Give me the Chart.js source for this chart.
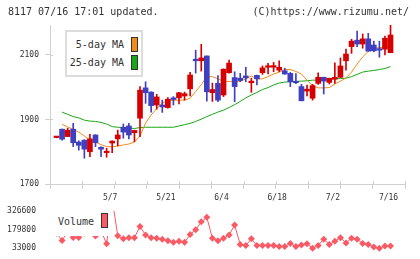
<!DOCTYPE html>
<html>
<head>
<meta charset="utf-8">
<script src="https://cdn.jsdelivr.net/npm/chart.js@4.4.1/dist/chart.umd.min.js"></script>
<style>
  html, body { margin: 0; padding: 0; background: #fff; }
  body { position: relative; width: 420px; height: 259px; overflow: hidden;
         font-family: "DejaVu Sans Mono", monospace; font-size: 10px; color: #333; }
  canvas { position: absolute; left: 0; }
  #priceChart { top: 0; }
  #volumeChart { top: 200px; }
  .t { position: absolute; line-height: 12px; white-space: nowrap; }
  .box { position: absolute; background: #fff; box-sizing: border-box; }
  .sw { position: absolute; width: 7px; height: 15px; box-sizing: border-box; border: 1px solid #333; }
</style>
</head>
<body>
<canvas id="priceChart" width="420" height="205"></canvas>
<canvas id="volumeChart" width="420" height="59"></canvas>

<div class="t" style="left:8px;top:6px">8117 07/16 17:01 updated.</div>
<div class="t" style="right:11px;top:6px">(C)https://www.rizumu.net/</div>

<div class="box" style="left:65px;top:30px;width:78px;height:47px;border:2px solid #ddd"></div>
<div class="t" style="right:296px;top:39px">5-day MA</div>
<div class="sw" style="left:131px;top:37px;background:#f08c1e"></div>
<div class="t" style="right:296px;top:57px">25-day MA</div>
<div class="sw" style="left:131px;top:55px;background:#17a817"></div>

<div class="box" style="left:52px;top:204px;width:60px;height:32px"></div>
<div class="t" style="left:58px;top:216px">Volume</div>
<div class="sw" style="left:101px;top:213px;background:#fa5a64"></div>

<script>
const dates = ['4/18', '4/21', '4/22', '4/23', '4/24', '4/25', '4/28', '4/30', '5/1', '5/2',
    '5/7', '5/8', '5/9', '5/12', '5/13', '5/14', '5/15', '5/16', '5/19', '5/20',
    '5/21', '5/22', '5/23', '5/26', '5/27', '5/28', '5/29', '5/30', '6/2', '6/3',
    '6/4', '6/5', '6/6', '6/9', '6/10', '6/11', '6/12', '6/13', '6/16', '6/17',
    '6/18', '6/19', '6/20', '6/23', '6/24', '6/25', '6/26', '6/27', '6/30', '7/1',
    '7/2', '7/3', '7/4', '7/7', '7/8', '7/9', '7/10', '7/11', '7/14', '7/15',
    '7/16'];
const tickLabels = ['5/7', '5/21', '6/4', '6/18', '7/2', '7/16'];
const priceTicks = [1700, 1900, 2100];
const volumeTicks = [33000, 179800, 326600];

const open = [1844, 1870, 1847, 1870, 1830, 1836, 1800, 1852, 1814, 1797,
    1827, 1840, 1876, 1880, 1859, 1904, 1998, 1985, 1945, 1945,
    1937, 1967, 1967, 1973, 1995, 2087, 2082, 2097, 1983, 2012,
    1976, 2045, 2030, 2028, 2035, 2014, 2037, 2045, 2062, 2062,
    2053, 2051, 2043, 2018, 2002, 1988, 1966, 2012, 2031, 2015,
    2025, 2031, 2082, 2126, 2146, 2134, 2150, 2131, 2117, 2118,
    2107];
const high = [1846, 1870, 1873, 1888, 1834, 1837, 1854, 1853, 1815, 1811,
    1834, 1867, 1886, 1888, 1867, 2002, 2017, 1986, 1978, 1960,
    1968, 1971, 1984, 1985, 2046, 2115, 2133, 2097, 2013, 2036,
    2057, 2084, 2048, 2043, 2062, 2028, 2038, 2066, 2074, 2077,
    2082, 2059, 2046, 2042, 2009, 2007, 2009, 2045, 2031, 2028,
    2076, 2091, 2118, 2149, 2174, 2165, 2167, 2143, 2143, 2159,
    2193];
const low = [1843, 1836, 1847, 1816, 1805, 1780, 1785, 1816, 1785, 1783,
    1797, 1818, 1842, 1840, 1831, 1847, 1950, 1923, 1932, 1922,
    1935, 1945, 1948, 1960, 1973, 2044, 2050, 1957, 1956, 1955,
    1971, 2044, 1955, 2017, 2017, 1984, 2007, 2040, 2041, 2048,
    2048, 2040, 2002, 2011, 1958, 1973, 1960, 2009, 1979, 2010,
    2012, 2030, 2053, 2105, 2126, 2121, 2112, 2110, 2093, 2100,
    2107];
const close = [1845, 1839, 1867, 1828, 1820, 1808, 1840, 1828, 1808, 1799,
    1833, 1852, 1861, 1852, 1866, 1991, 1983, 1943, 1970, 1939,
    1963, 1962, 1983, 1980, 2038, 2082, 2091, 1986, 1993, 1960,
    2056, 2075, 2002, 2021, 2029, 2019, 2026, 2060, 2064, 2067,
    2062, 2041, 2017, 2014, 1958, 1994, 2005, 2031, 2019, 2028,
    2031, 2066, 2103, 2143, 2134, 2150, 2112, 2113, 2115, 2152,
    2162];
const ma5 = [null, 1885, 1877, 1869, 1861, 1849, 1836, 1830, 1822, 1816,
    1815, 1818, 1821, 1824, 1830, 1849, 1889, 1914, 1934, 1951,
    1957, 1960, 1960, 1960, 1966, 1987, 2008, 2033, 2033, 2026,
    2018, 2018, 2018, 2019, 2026, 2035, 2026, 2026, 2033, 2041,
    2047, 2055, 2055, 2049, 2041, 2022, 2005, 1998, 1998, 1999,
    2010, 2019, 2029, 2047, 2072, 2094, 2111, 2120, 2123, 2124,
    2124];
const ma25 = [null, 1923, 1916, 1909, 1905, 1898, 1895, 1894, 1891, 1886,
    1878, 1876, 1875, 1874, 1872, 1875, 1876, 1876, 1876, 1876,
    1876, 1876, 1880, 1884, 1888, 1894, 1901, 1909, 1916, 1923,
    1929, 1937, 1946, 1956, 1967, 1976, 1984, 1993, 1999, 2007,
    2013, 2016, 2017, 2018, 2019, 2020, 2022, 2022, 2024, 2025,
    2026, 2027, 2028, 2033, 2040, 2047, 2050, 2052, 2055, 2058,
    2064];
const volume = [150000, 94000, 160000, 117000, 117000, 150000, 190000, 128000, 170000, 67500,
    420000, 130600, 106400, 116000, 116000, 204000, 135800, 116000, 111500, 104200,
    91700, 79200, 86600, 79200, 140900, 177600, 240700, 275200, 111500, 91700,
    111500, 137000, 214300, 62400, 55000, 106400, 55000, 55000, 55000, 55000,
    45500, 45500, 69700, 45500, 57200, 67500, 33000, 55000, 104200, 62400,
    86600, 116000, 74800, 111500, 104200, 69700, 62400, 42500, 33000, 49900,
    49900];

const RED = '#d60000';
const BLUE = '#3f3fbf';
const ORANGE = '#f08c1e';
const GREEN = '#17a817';
const VOL = '#fa5a64';
const AXIS = '#d0d0d0';

Chart.defaults.font.family = "'DejaVu Sans Mono', monospace";
Chart.defaults.font.size = 8;
Chart.defaults.color = '#333';
Chart.defaults.animation = false;
Chart.defaults.plugins.legend.display = false;
Chart.defaults.plugins.tooltip.enabled = false;

// visible index range, so both charts line up
const xMin = -1.17, xMax = 62.6;

const candleColors = dates.map((d, i) => close[i] >= open[i] ? RED : BLUE);
const wicks = dates.map((d, i) => ({ x: i, y: [low[i], high[i]] }));
const bodies = dates.map((d, i) => ({ x: i, y: [open[i], close[i]] }));
const asPoints = arr => arr.map((v, i) => ({ x: i, y: v }));

const fixedWidth = w => scale => { scale.width = w; };
const setTicks = vals => scale => { scale.ticks = vals.map(v => ({ value: v })); };

// the small tick marks poke a few px into the plot
const innerTicks = {
    id: 'innerTicks',
    beforeDatasetsDraw(chart) {
        const { ctx, chartArea, scales } = chart;
        ctx.save();
        ctx.strokeStyle = AXIS;
        ctx.lineWidth = 1;
        ctx.beginPath();
        scales.xg.ticks.forEach(t => {
            const px = Math.round(scales.xg.getPixelForValue(t.value)) + 0.5;
            ctx.moveTo(px, chartArea.bottom - 3);
            ctx.lineTo(px, chartArea.bottom);
        });
        scales.y.ticks.forEach(t => {
            const py = Math.round(scales.y.getPixelForValue(t.value)) + 0.5;
            ctx.moveTo(chartArea.left, py);
            ctx.lineTo(chartArea.left + 3, py);
        });
        ctx.stroke();
        ctx.restore();
    }
};

new Chart(document.getElementById('priceChart'), {
    type: 'bar',
    data: {
        datasets: [
            { label: 'wick', data: wicks, backgroundColor: candleColors, barThickness: 1, grouped: false, order: 2 },
            { label: 'body', data: bodies, backgroundColor: candleColors, barThickness: 5, minBarLength: 1.5, grouped: false, order: 1 },
            { type: 'line', label: '5-day MA', data: asPoints(ma5), borderColor: ORANGE, borderWidth: 1, pointRadius: 0, order: 3 },
            { type: 'line', label: '25-day MA', data: asPoints(ma25), borderColor: GREEN, borderWidth: 1, pointRadius: 0, order: 4 }
        ]
    },
    options: {
        responsive: false,
        events: [],
        layout: { padding: { top: 25, right: 15, left: 0, bottom: 0 } },
        scales: {
            x: {
                type: 'linear', min: xMin, max: xMax, offset: false, weight: 1,
                grid: { display: false, offset: false },
                border: { display: false },
                afterBuildTicks: scale => { scale.ticks = tickLabels.map(t => ({ value: dates.indexOf(t) })); },
                afterFit: scale => { scale.height = 21; },
                ticks: { callback: v => dates[v], padding: 1, labelOffset: -2, maxRotation: 0, autoSkip: false }
            },
            xg: {
                type: 'linear', position: 'bottom', min: 0, max: 11, offset: false, weight: 0,
                ticks: { display: false, stepSize: 1 },
                grid: { drawOnChartArea: false, tickLength: 5, color: AXIS, offset: false },
                border: { color: AXIS },
                afterFit: scale => { scale.height = 0; }
            },
            y: {
                type: 'linear', min: 1700, max: 2193,
                afterBuildTicks: setTicks(priceTicks),
                afterFit: fixedWidth(50),
                grid: { drawOnChartArea: false, tickLength: 5, color: AXIS },
                border: { color: AXIS },
                ticks: { padding: 6, callback: v => String(v) }
            }
        }
    },
    plugins: [innerTicks]
});

new Chart(document.getElementById('volumeChart'), {
    type: 'line',
    data: {
        datasets: [{
            label: 'Volume',
            data: asPoints(volume),
            borderColor: VOL,
            borderWidth: 1,
            pointStyle: 'rectRot',
            pointRadius: 3.5,
            pointBackgroundColor: VOL,
            pointBorderWidth: 0,
            clip: { left: 10, right: 10, top: 0, bottom: 10 }
        }]
    },
    options: {
        responsive: false,
        events: [],
        layout: { padding: { top: 9, right: 15, bottom: 10, left: 0 } },
        scales: {
            x: { type: 'linear', min: xMin, max: xMax, display: false },
            y: {
                min: 33000, max: 326600,
                afterBuildTicks: setTicks(volumeTicks),
                afterFit: fixedWidth(50),
                grid: { display: false },
                border: { display: false },
                ticks: { padding: 6, callback: v => String(v) }
            }
        }
    }
});
</script>
</body>
</html>
